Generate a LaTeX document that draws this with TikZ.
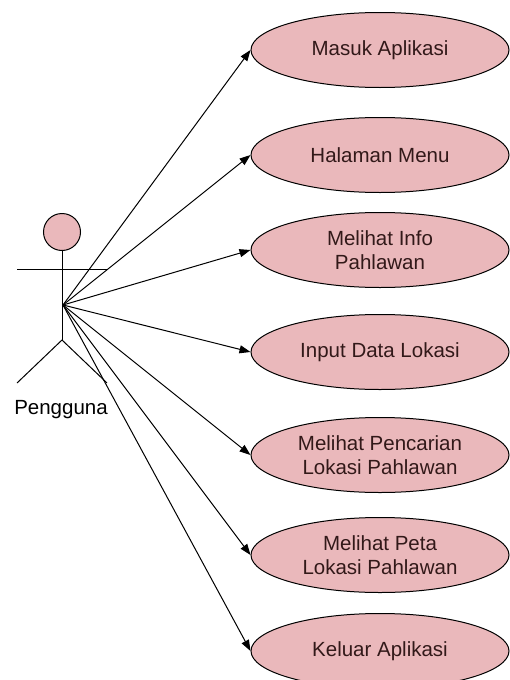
\documentclass[tikz,border=0pt]{standalone}
\usepackage{fontspec}
\setmainfont{Liberation Sans}
\usetikzlibrary{shapes.geometric, arrows.meta}
\definecolor{ucpink}{RGB}{234,184,187}
\definecolor{uctext}{RGB}{50,25,25}

\begin{document}
\begin{tikzpicture}[x=1pt, y=-1pt, line width=1pt,
  font=\fontsize{20.5}{23.5}\selectfont,
  usecase/.style={ellipse, draw, fill=ucpink, text=uctext, minimum width=258pt,
    minimum height=75pt, inner sep=0pt, align=center},
  assoc/.style={-{Triangle[length=11pt, width=8pt]}}]
\useasboundingbox (0,0) rectangle (509,680);

\draw[fill=ucpink] (62,232) circle[radius=18.5pt];
\draw (62,251) -- (62,340);
\draw (17,269) -- (107,269);
\draw (17,383) -- (62,340) -- (107,383);
\coordinate (hub) at (63,305);
\node (pengguna) at (61,410) {Pengguna};

\node[usecase] (masuk) at (380,50) {Masuk Aplikasi};
\node[usecase] (menu) at (380,155) {Halaman Menu};
\node[usecase] (info) at (380,250) {Melihat Info\\Pahlawan};
\node[usecase] (input) at (380,352) {Input Data Lokasi};
\node[usecase] (cari) at (380,455) {Melihat Pencarian\\Lokasi Pahlawan};
\node[usecase] (peta) at (380,555) {Melihat Peta\\Lokasi Pahlawan};
\node[usecase] (keluar) at (380,651) {Keluar Aplikasi};

\foreach \uc in {masuk,menu,info,input,cari,peta,keluar}
  \draw[assoc] (hub) -- (\uc.west);
\end{tikzpicture}
\end{document}
